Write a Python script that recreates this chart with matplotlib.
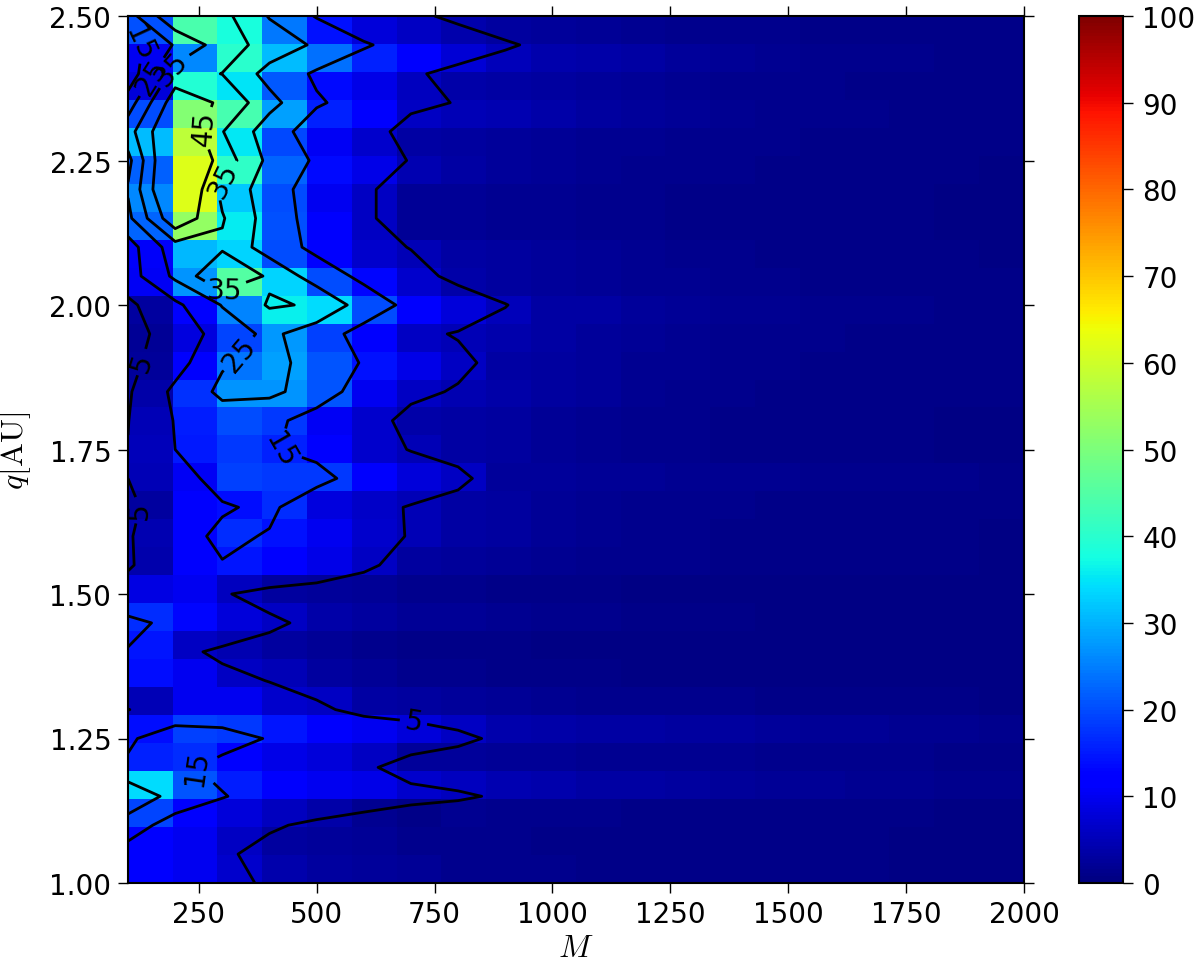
import numpy as np
import matplotlib
matplotlib.use('Agg')
from matplotlib import pyplot as plt

plt.rcParams['mathtext.fontset'] = 'cm'
plt.rcParams['font.size'] = 20

# mass values (columns) and q values (rows, top of the plot first)
M = [100, 200, 300, 400, 500, 600, 700, 800, 900, 1000, 1100, 1200, 1300, 1400, 1500, 1600, 1700, 1800, 1900, 2000]
q = [2.50, 2.45, 2.40, 2.35, 2.30, 2.25, 2.20, 2.15, 2.10, 2.05, 2.00, 1.95, 1.90, 1.85, 1.80, 1.75,
     1.70, 1.65, 1.60, 1.55, 1.50, 1.45, 1.40, 1.35, 1.30, 1.25, 1.20, 1.15, 1.10, 1.05, 1.00]

percent = [
    [20.6, 43.8, 38, 24.3, 14.3, 8, 6, 4, 3, 2.4, 2, 1.7, 1.5, 1.3, 1.2, 1.1, 1, .9, .8, .8],
    [10, 26, 40, 31, 23.5, 16, 11, 7.5, 5.4, 4.1, 3.8, 3.2, 2.5, 2, 1.7, 1.5, 1.3, 1.2, 1, 1],
    [8, 39.4, 34.8, 21.4, 13.6, 9, 5.6, 3.8, 3.2, 2.8, 2.4, 2, 1.7, 1.5, 1.3, 1.2, 1.1, 1, .9, .9],
    [20, 51, 43.5, 28.2, 16, 11.5, 6, 4.8, 4.3, 3.6, 3, 2.4, 2, 1.7, 1.5, 1.3, 1.2, 1, 1, .9],
    [31, 58, 35.4, 19.6, 10.4, 7, 3.4, 3, 2.5, 2.2, 1.9, 1.6, 1.4, 1.3, 1.2, 1.1, 1, .9, .8, .8],
    [22, 62, 40.7, 22.4, 13.6, 9, 4.6, 3.5, 2.5, 2.1, 1.8, 1.5, 1.3, 1.2, 1.1, 1, .9, .8, .8, .7],
    [26, 62, 32.2, 20, 10, 6, 2.2, 2, 1.8, 1.6, 1.4, 1.2, 1.1, 1, .9, .9, .8, .8, .7, .7],
    [22.6, 53, 35.8, 20.5, 11, 6, 2.2, 2, 1.8, 1.6, 1.4, 1.2, 1.1, 1, .9, .9, .8, .8, .7, .7],
    [10.6, 30.6, 33.4, 20, 12.75, 7, 4.8, 3.5, 3, 2.5, 2, 1.6, 1.4, 1.2, 1.1, 1, .9, .8, .8, .7],
    [10.4, 27, 45, 33.4, 20, 12.9, 7, 3.6, 3, 2.7, 2.3, 1.9, 1.6, 1.4, 1.2, 1.1, 1, .9, .9, .8],
    [3, 12.85, 25.5, 36, 34.1, 20.1, 12.6, 8, 5.1, 3.4, 3.2, 2.6, 2.2, 1.8, 1.6, 1.4, 1.3, 1.2, 1.1, 1],
    [2, 8.5, 19.2, 27.4, 19.1, 12, 6, 4.7, 4, 3.3, 2.7, 2, 1.7, 1.5, 1.3, 1.2, 1.1, 1, .9, .9],
    [2.5, 11, 24, 28.3, 21, 14.3, 9, 6, 3.5, 3, 2.5, 1.9, 1.6, 1.4, 1.2, 1.1, 1, .9, .9, .8],
    [3.9, 17.2, 27.2, 27, 21, 9.9, 6, 4.6, 3.8, 3, 2.4, 1.8, 1.5, 1.3, 1.1, 1, .9, .9, .8, .8],
    [4.8, 15.5, 20, 18, 10.3, 7, 3.7, 3.2, 2.8, 2.3, 1.9, 1.5, 1.2, 1.1, 1, .9, .8, .8, .7, .7],
    [5.2, 15, 18, 15.7, 12.5, 7, 4.8, 3.5, 2.8, 2.2, 1.8, 1.4, 1.2, 1.1, 1, .9, .8, .8, .7, .7],
    [5, 10.5, 19, 18, 18, 11, 8, 6, 2.7, 2.5, 2.3, 2, 1.9, 1.8, 1.6, 1.5, 1.4, 1.3, 1.2, 1.1],
    [3, 11, 14, 16.9, 8.3, 6.5, 4.7, 3.5, 2.8, 2.2, 1.8, 1.4, 1.3, 1.2, 1.1, 1, 1, .9, .8, .8],
    [4.3, 11, 17, 14.3, 10, 7, 4.7, 3.5, 2.8, 2.2, 1.8, 1.4, 1.2, 1.1, 1, .9, .9, .8, .8, .7],
    [4.1, 11, 14.5, 12, 9, 6, 3, 2.5, 2, 1.8, 1.5, 1.3, 1.2, 1.1, 1, .9, .9, .8, .8, .7],
    [8.6, 10, 5.5, 3, 2.5, 2, 1.5, 1.2, 1, .9, .8, .7, .7, .6, .6, .6, .5, .5, .5, .5],
    [17, 13, 8, 6, 3.7, 3, 2.3, 2, 1.7, 1.5, 1.2, 1, .9, .8, .7, .7, .6, .6, .5, .5],
    [14.6, 6, 4.3, 3, 2, 1.5, 1, .9, .8, .7, .6, .6, .5, .5, .5, .4, .4, .4, .4, .4],
    [14, 10, 6, 4.9, 3, 2, 1.5, 1.2, 1, .9, .8, .7, .7, .6, .6, .5, .5, .5, .5, .4],
    [4.8, 10, 10, 7, 6, 3.5, 3, 2.5, 2, 1.7, 1.5, 1.4, 1.3, 1.2, 1.1, 1, .9, .8, .8, .7],
    [14, 19, 18, 14.5, 11, 10, 8, 6, 4, 3.8, 3.5, 3.2, 3, 2.8, 2.5, 2.3, 2, 1.8, 1.6, 1.5],
    [16, 17, 12.7, 9, 8, 6, 2.7, 2.4, 2, 2, 1.9, 1.8, 1.7, 1.6, 1.5, 1.4, 1.3, 1.2, 1.1, 1],
    [34, 20.8, 15.5, 11.3, 10, 9, 6.8, 5.6, 4.4, 4, 3.5, 3.2, 3, 2.7, 2.3, 2, 1.8, 1.6, 1.4, 1.3],
    [19.3, 11.1, 8, 5.8, 3.8, 1.7, .8, 1.6, 1.4, 1.3, 1.2, 1.1, 1, 1, .9, .9, .8, .8, .7, .7],
    [11.5, 10, 6, 3, 2.5, 2, 1.5, 1.3, 1.2, 1.1, 1, 1, .9, .9, .8, .8, .8, .7, .7, .7],
    [12, 10, 7, 4.1, 3, 2.5, 2, 1.5, 1.3, 1.2, 1.1, 1, 1, .9, .9, .8, .8, .7, .7, .7],
]

levels = [5, 15, 25, 35, 45]
x_ticks = [250, 500, 750, 1000, 1250, 1500, 1750, 2000]
y_ticks = [1.00, 1.25, 1.50, 1.75, 2.00, 2.25, 2.50]
cbar_ticks = [0, 10, 20, 30, 40, 50, 60, 70, 80, 90, 100]
# where the contour labels sit, (M, q), per level
label_pos = {5: [(121, 1.903), (115, 1.647), (704, 1.273)],
             15: [(422, 1.746), (231, 1.206), (132, 2.46)],
             25: [(359, 1.90), (140, 2.40)],
             35: [(301, 2.218), (306, 2.024), (164, 2.425)],
             45: [(263, 2.305)]}

W, H = 1200.0, 962.0
fig = plt.figure(figsize=(12, 9.62), dpi=100)
ax = fig.add_axes([128/W, 1-884/H, 896/W, 867/H])
cax = fig.add_axes([1079/W, 1-884/H, 44/W, 867/H])

z = np.array(percent)
im = ax.imshow(z, extent=[min(M), max(M), min(q), max(q)], aspect='auto', cmap='jet',
               vmin=0, vmax=100, interpolation='nearest')
# one contour set per level so each label lands on its own level
for lev in levels:
    cs = ax.contour(M, q, z, levels=[lev], colors='k', linewidths=2)
    ax.clabel(cs, fmt='%d', fontsize=20, inline=True, manual=label_pos[lev])

ax.set_xlim(100, 2000)
ax.set_ylim(1, 2.5)
ax.set_xticks(x_ticks)
ax.set_yticks(y_ticks)
ax.set_yticklabels(['%.2f' % v for v in y_ticks])
ax.tick_params(direction='out', length=7, width=1, top=True, right=True, labelsize=20, pad=5)
ax.set_xlabel('$M$', fontsize=23, labelpad=3)
ax.set_ylabel(r'$q[\mathrm{AU}]$', fontsize=23, labelpad=12)

cb = fig.colorbar(im, cax=cax, ticks=cbar_ticks)
cb.ax.tick_params(labelsize=20, length=7, width=1, direction='out', pad=7)
for s in ax.spines.values():
    s.set_linewidth(1.5)
cb.outline.set_linewidth(1.5)

fig.savefig('out.png', dpi=100)
